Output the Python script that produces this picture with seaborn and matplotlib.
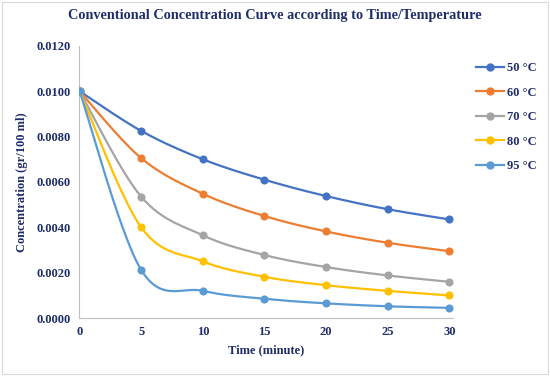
import numpy as np
import pandas as pd
import matplotlib
matplotlib.use('Agg')
import matplotlib.pyplot as plt
from matplotlib.lines import Line2D
import seaborn as sns

time_min = [0, 5, 10, 15, 20, 25, 30]
labels = ['50 °C', '60 °C', '70 °C', '80 °C', '95 °C']
conc_50 = [0.0100, 0.00825, 0.00700, 0.00610, 0.00538, 0.00480, 0.00435]
conc_60 = [0.0100, 0.00705, 0.00548, 0.00450, 0.00382, 0.00332, 0.00295]
conc_70 = [0.0100, 0.00535, 0.00365, 0.00278, 0.00225, 0.00188, 0.00160]
conc_80 = [0.0100, 0.00400, 0.00250, 0.00182, 0.00145, 0.00120, 0.00100]
conc_95 = [0.0100, 0.00212, 0.00120, 0.00085, 0.00065, 0.00052, 0.00045]
colors = ['#4472C4', '#ED7D31', '#A5A5A5', '#FFC000', '#5B9BD5']

navy = '#1F2D6B'


# Excel-like smoothed line (Catmull-Rom bezier between points)
def smooth(x, y, n=30):
    x = np.asarray(x, float)
    y = np.asarray(y, float)
    px = np.concatenate([[x[0]], x, [x[-1]]])
    py = np.concatenate([[y[0]], y, [y[-1]]])
    xs, ys = [], []
    t = np.linspace(0, 1, n)
    for i in range(1, len(px) - 2):
        p0 = np.array([px[i], py[i]])
        p3 = np.array([px[i + 1], py[i + 1]])
        p1 = p0 + (np.array([px[i + 1], py[i + 1]]) - np.array([px[i - 1], py[i - 1]])) / 6
        p2 = p3 - (np.array([px[i + 2], py[i + 2]]) - np.array([px[i], py[i]])) / 6
        b = ((1 - t) ** 3)[:, None] * p0 + (3 * (1 - t) ** 2 * t)[:, None] * p1 \
            + (3 * (1 - t) * t ** 2)[:, None] * p2 + (t ** 3)[:, None] * p3
        xs.extend(b[:, 0])
        ys.extend(b[:, 1])
    return xs, ys


series = [conc_50, conc_60, conc_70, conc_80, conc_95]

plt.rcParams['font.family'] = ['Liberation Serif', 'DejaVu Serif']
fig = plt.figure(figsize=(5.5, 3.76), dpi=100)
ax = fig.add_axes([0.1436, 0.154, 0.68, 0.724])

for lab, vals, c in zip(labels, series, colors):
    sx, sy = smooth(time_min, vals)
    sns.lineplot(x=sx, y=sy, ax=ax, color=c, linewidth=1.6, sort=False, estimator=None)
    df = pd.DataFrame({'t': time_min, 'c': vals})
    sns.scatterplot(data=df, x='t', y='c', ax=ax, color=c, s=34, edgecolor=c, linewidth=0, zorder=3)

ax.set_xticks(time_min)
ax.set_yticks(np.arange(0, 0.0121, 0.002))
ax.set_yticklabels([f'{v:.4f}' for v in np.arange(0, 0.0121, 0.002)])
ax.tick_params(axis='both', length=0, labelsize=9, labelcolor=navy, pad=6)
for lbl in ax.get_xticklabels() + ax.get_yticklabels():
    lbl.set_fontweight('bold')
for s in ['top', 'right']:
    ax.spines[s].set_visible(False)
for s in ['left', 'bottom']:
    ax.spines[s].set_color('#BFBFBF')
    ax.spines[s].set_linewidth(0.8)
ax.set_xlim(-0.05, 30.3)
ax.set_ylim(0, 0.012)
ax.set_xlabel('Time (minute)', fontsize=9, fontweight='bold', color=navy, labelpad=4)
ax.set_ylabel('Concentration (gr/100 ml)', fontsize=9, fontweight='bold', color=navy, labelpad=6)
for sp in ax.spines.values():
    sp.set_clip_on(False)

fig.suptitle('Conventional Concentration Curve according to Time/Temperature',
             x=0.5, y=0.975, fontsize=10.3, fontweight='bold', color=navy)

handles = [Line2D([0], [0], color=c, marker='o', markersize=5, linewidth=1.6) for c in colors]
leg = fig.legend(handles, labels, loc='upper left', bbox_to_anchor=(0.845, 0.865),
                 frameon=False, fontsize=9, handlelength=2.2, labelspacing=1.0, handletextpad=0.3)
for t in leg.get_texts():
    t.set_color(navy)
    t.set_fontweight('bold')

fig.patches.append(plt.Rectangle((0.003, 0.004), 0.994, 0.992, transform=fig.transFigure,
                                 fill=False, edgecolor='#D9D9D9', linewidth=0.8))
fig.savefig('out.png', dpi=100)
